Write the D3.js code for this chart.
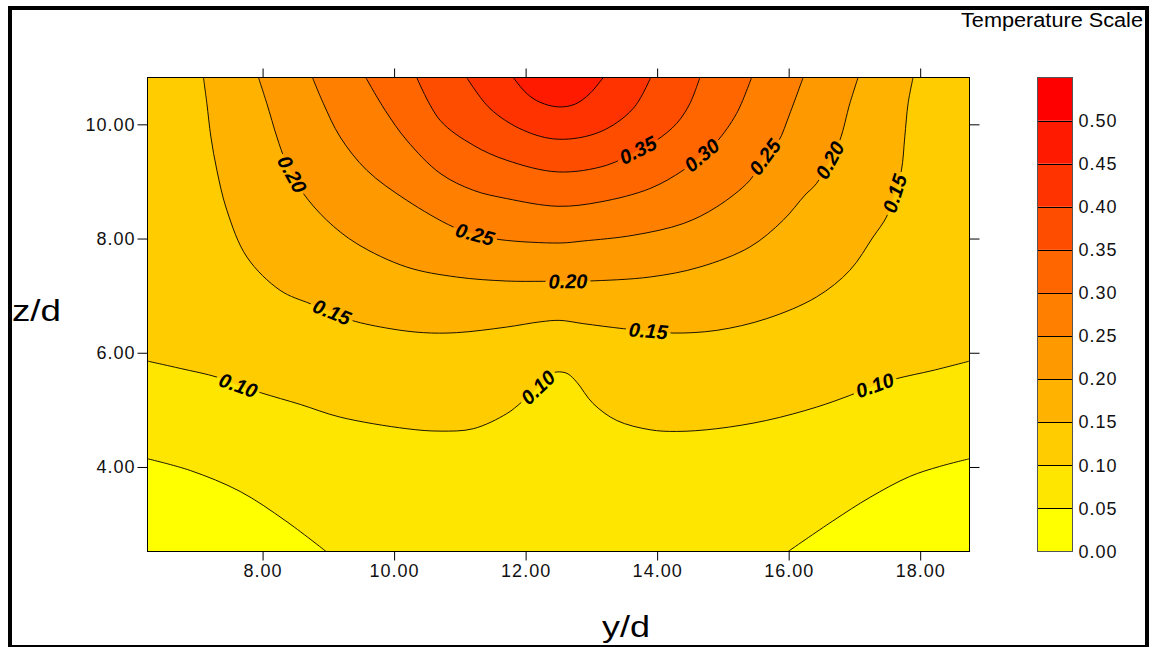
<!DOCTYPE html>
<html><head><meta charset="utf-8">
<script src="https://cdn.jsdelivr.net/npm/d3@7"></script>
<style>
html,body{margin:0;padding:0;background:#fff;}
svg{display:block;font-family:"Liberation Sans",Arial,Helvetica,sans-serif;}
</style></head><body>
<svg id="chart" width="1152" height="647"></svg>
<script>
// ---------- data ----------
const xDomain = [6.25, 18.75];          // y/d
const zDomain = [2.52, 10.82];          // z/d
const xTicks = [8, 10, 12, 14, 16, 18];
const zTicks = [4, 6, 8, 10];
const scaleLevels = [0.00,0.05,0.10,0.15,0.20,0.25,0.30,0.35,0.40,0.45,0.50,0.55];
const scaleTickLabels = [0.00,0.05,0.10,0.15,0.20,0.25,0.30,0.35,0.40,0.45,0.50];
const bandColors = ["#ffff00","#ffe600","#ffcc00","#ffb300","#ff9900","#ff8000",
                    "#ff6600","#ff4d00","#ff3300","#ff1a00","#ff0000"];

// contour lines, [y/d, z/d]
const c05Left  = [[6.25,4.144],[6.899,3.939],[7.659,3.571],[8.343,3.063],[8.966,2.52]];
const c05Right = [[15.992,2.52],[16.671,3.054],[17.234,3.466],[17.842,3.834],[18.297,4.009],[18.75,4.144]];
const c10 = [[6.25,5.854],[6.747,5.726],[7.305,5.574],[7.628,5.428],[7.989,5.294],[8.571,5.096],
  [9.179,4.873],[10.192,4.670],[10.698,4.628],[11.205,4.670],[11.712,4.933],[11.940,5.136],
  [12.188,5.393],[12.401,5.639],[12.522,5.665],[12.644,5.630],[12.781,5.481],[13.024,5.113],
  [13.384,4.815],[13.890,4.652],[14.296,4.622],[14.904,4.670],[15.664,4.815],[16.423,5.048],
  [16.930,5.253],[17.309,5.428],[17.639,5.546],[18.196,5.691],[18.75,5.854]];
const c15 = [[7.101,10.82],[7.153,10.364],[7.214,9.779],[7.305,9.196],[7.457,8.495],[7.761,7.677],
  [8.267,7.093],[8.723,6.860],[9.053,6.713],[9.356,6.567],[9.939,6.422],[10.445,6.352],
  [10.952,6.352],[11.712,6.450],[12.218,6.541],[12.522,6.567],[12.876,6.510],[13.484,6.422],
  [13.864,6.383],[14.244,6.345],[14.904,6.392],[15.664,6.597],[16.423,6.976],[16.930,7.443],
  [17.284,8.027],[17.487,8.377],[17.613,8.787],[17.715,9.196],[17.766,9.779],[17.816,10.364],[17.892,10.82]];
const c20 = [[7.937,10.82],[8.065,10.364],[8.217,9.779],[8.343,9.371],[8.449,9.126],[8.621,8.787],
  [8.977,8.320],[9.432,7.911],[10.192,7.501],[10.952,7.326],[11.712,7.256],[12.268,7.251],
  [12.644,7.251],[12.952,7.256],[13.890,7.326],[14.650,7.501],[15.410,7.852],[15.916,8.320],
  [16.246,8.758],[16.423,8.963],[16.626,9.371],[16.778,9.721],[16.930,10.364],[17.056,10.82]];
const c25 = [[8.758,10.82],[8.925,10.364],[9.179,9.779],[9.584,9.196],[10.192,8.670],[10.901,8.202],
  [11.230,8.074],[11.610,7.981],[12.522,7.922],[12.876,7.957],[13.636,8.057],[14.396,8.262],
  [14.904,8.553],[15.410,9.020],[15.638,9.429],[15.840,9.692],[16.018,10.189],[16.220,10.82]];
const c30 = [[9.569,10.82],[9.863,10.247],[10.192,9.721],[10.698,9.143],[11.205,8.845],[11.712,8.700],
  [12.492,8.565],[13.130,8.640],[13.890,8.875],[14.396,9.196],[14.680,9.459],[14.904,9.692],
  [15.208,10.189],[15.436,10.82]];
const c35 = [[10.344,10.82],[10.698,10.072],[11.205,9.634],[11.712,9.371],[12.496,9.166],[13.232,9.283],
  [13.708,9.546],[13.992,9.721],[14.296,10.014],[14.498,10.364],[14.650,10.82]];
const c40 = [[11.104,10.82],[11.458,10.277],[11.964,9.897],[12.496,9.739],[13.130,9.867],[13.636,10.277],[13.901,10.82]];
const c45 = [[11.812,10.82],[12.016,10.540],[12.218,10.387],[12.496,10.305],[12.750,10.352],[12.978,10.540],[13.180,10.82]];

const contourLines = [
  {level:0.05, pts:c05Left}, {level:0.05, pts:c05Right}, {level:0.10, pts:c10},
  {level:0.15, pts:c15}, {level:0.20, pts:c20}, {level:0.25, pts:c25},
  {level:0.30, pts:c30}, {level:0.35, pts:c35}, {level:0.40, pts:c40}, {level:0.45, pts:c45}
];

// label anchor points on the contour lines
const contourLabels = [
  {level:0.20, y:8.449, z:9.126}, {level:0.25, y:11.230, z:8.074},
  {level:0.15, y:9.053, z:6.713}, {level:0.20, y:12.644, z:7.251},
  {level:0.15, y:13.864, z:6.383}, {level:0.10, y:7.628, z:5.428},
  {level:0.10, y:12.188, z:5.393}, {level:0.10, y:17.309, z:5.428},
  {level:0.15, y:17.613, z:8.787}, {level:0.20, y:16.626, z:9.371},
  {level:0.25, y:15.638, z:9.429}, {level:0.30, y:14.680, z:9.459},
  {level:0.35, y:13.708, z:9.546}
];

// ---------- drawing ----------
const svg = d3.select("#chart");
const L = 147.5, R = 969.5, T = 77.5, B = 551.5;
const x = d3.scaleLinear().domain(xDomain).range([L, R]);
const y = d3.scaleLinear().domain(zDomain).range([B, T]);
const fmt = d3.format(".2f");

const defs = svg.append("defs");
defs.append("clipPath").attr("id","plotclip").append("rect")
  .attr("x",L).attr("y",T).attr("width",R-L).attr("height",B-T);

const line = d3.line().x(d=>x(d[0])).y(d=>y(d[1])).curve(d3.curveCatmullRom.alpha(0.5));
const closeWith = (pts, extra) => line(pts) + extra.map(p=>`L${x(p[0])},${y(p[1])}`).join("") + "Z";

const plot = svg.append("g").attr("clip-path","url(#plotclip)");
plot.append("rect").attr("x",L).attr("y",T).attr("width",R-L).attr("height",B-T).attr("fill",bandColors[1]);

const fills = [
  {pts:c05Left,  extra:[[xDomain[0],zDomain[0]]], color:bandColors[0]},
  {pts:c05Right, extra:[[xDomain[1],zDomain[0]]], color:bandColors[0]},
  {pts:c10, extra:[[xDomain[1],zDomain[1]],[xDomain[0],zDomain[1]]], color:bandColors[2]},
  {pts:c15, extra:[], color:bandColors[3]},
  {pts:c20, extra:[], color:bandColors[4]},
  {pts:c25, extra:[], color:bandColors[5]},
  {pts:c30, extra:[], color:bandColors[6]},
  {pts:c35, extra:[], color:bandColors[7]},
  {pts:c40, extra:[], color:bandColors[8]},
  {pts:c45, extra:[], color:bandColors[9]}
];
plot.selectAll("path.fill").data(fills).join("path").attr("class","fill")
  .attr("d", d=>closeWith(d.pts, d.extra)).attr("fill", d=>d.color).attr("stroke","none");

// mask for label gaps
const mask = defs.append("mask").attr("id","gaps").attr("maskUnits","userSpaceOnUse")
  .attr("x",0).attr("y",0).attr("width",1152).attr("height",647);
mask.append("rect").attr("x",0).attr("y",0).attr("width",1152).attr("height",647).attr("fill","#fff");

const linesG = plot.append("g").attr("mask","url(#gaps)");
linesG.selectAll("path").data(contourLines).join("path")
  .attr("d", d=>line(d.pts)).attr("fill","none").attr("stroke","#000").attr("stroke-width",0.9);

// labels
const labG = plot.append("g");
contourLabels.forEach(lb => {
  const cands = contourLines.filter(c=>Math.abs(c.level-lb.level)<1e-9);
  let best=null, bi=0, bd=Infinity;
  cands.forEach(c=>c.pts.forEach((p,i)=>{
    const dd=(p[0]-lb.y)**2+(p[1]-lb.z)**2; if(dd<bd){bd=dd;best=c;bi=i;}
  }));
  const p0 = best.pts[Math.max(0,bi-1)], p1 = best.pts[Math.min(best.pts.length-1,bi+1)];
  let ang = Math.atan2(y(p1[1])-y(p0[1]), x(p1[0])-x(p0[0]))*180/Math.PI;
  if (ang>90) ang-=180; if (ang<-90) ang+=180;
  const px = x(lb.y), py = y(lb.z);
  const t = labG.append("text").attr("transform",`translate(${px},${py}) rotate(${ang})`)
    .attr("text-anchor","middle").attr("dominant-baseline","central")
    .attr("font-size",20).attr("font-weight","bold").attr("font-style","italic")
    .attr("fill","#000").text(fmt(lb.level));
  const w = t.node().getComputedTextLength() + 6;
  mask.append("rect").attr("x",-w/2).attr("y",-8).attr("width",w).attr("height",16)
    .attr("transform",`translate(${px},${py}) rotate(${ang})`).attr("fill","#000");
});

// plot frame
svg.append("rect").attr("x",L).attr("y",T).attr("width",R-L).attr("height",B-T)
  .attr("fill","none").attr("stroke","#000").attr("stroke-width",1);

// axes
function styleAxis(g){
  g.select(".domain").remove();
  g.attr("font-family",null).attr("font-size",null).style("color","#000");
  g.selectAll("text").attr("font-size",18).attr("letter-spacing",1).attr("fill","#111");
}
svg.append("g").attr("transform",`translate(0,${B})`)
  .call(d3.axisBottom(x).tickValues(xTicks).tickFormat(fmt).tickSize(9).tickPadding(4)).call(styleAxis);
svg.append("g").attr("transform",`translate(0,${T})`)
  .call(d3.axisTop(x).tickValues(xTicks).tickFormat("").tickSize(9)).call(styleAxis);
svg.append("g").attr("transform",`translate(${L},0)`)
  .call(d3.axisLeft(y).tickValues(zTicks).tickFormat(fmt).tickSize(10).tickPadding(2)).call(styleAxis);
svg.append("g").attr("transform",`translate(${R},0)`)
  .call(d3.axisRight(y).tickValues(zTicks).tickFormat("").tickSize(10)).call(styleAxis);

// axis titles
svg.append("text").attr("x",12).attr("y",321).attr("font-size",30)
  .attr("textLength",49).attr("lengthAdjust","spacingAndGlyphs").attr("fill","#000").text("z/d");
svg.append("text").attr("x",602).attr("y",637).attr("font-size",30)
  .attr("textLength",48).attr("lengthAdjust","spacingAndGlyphs").attr("fill","#000").text("y/d");

// colour scale
const cbL = 1037.5, cbW = 35;
const cy = d3.scaleLinear().domain([scaleLevels[0], scaleLevels[scaleLevels.length-1]]).range([B, T]);
const bands = d3.pairs(scaleLevels).map((p,i)=>({lo:p[0],hi:p[1],color:bandColors[i]}));
svg.append("g").selectAll("rect").data(bands).join("rect")
  .attr("x",cbL).attr("width",cbW).attr("y",d=>cy(d.hi)).attr("height",d=>cy(d.lo)-cy(d.hi))
  .attr("fill",d=>d.color);
svg.append("g").selectAll("line").data(scaleLevels.slice(1,-1)).join("line")
  .attr("x1",cbL).attr("x2",cbL+cbW).attr("y1",d=>Math.round(cy(d))+0.5).attr("y2",d=>Math.round(cy(d))+0.5)
  .attr("stroke","#000").attr("stroke-width",1);
svg.append("rect").attr("x",cbL).attr("y",T).attr("width",cbW).attr("height",B-T)
  .attr("fill","none").attr("stroke","#555").attr("stroke-width",1);
svg.append("g").attr("transform",`translate(${cbL+cbW},0)`)
  .call(d3.axisRight(cy).tickValues(scaleTickLabels).tickFormat(fmt).tickSize(0).tickPadding(6))
  .call(styleAxis);

svg.append("text").attr("x",961).attr("y",27).attr("font-size",19.5)
  .attr("textLength",182).attr("lengthAdjust","spacingAndGlyphs").attr("fill","#000").text("Temperature Scale");

// outer border
svg.append("rect").attr("x",10).attr("y",8).attr("width",1137).attr("height",639)
  .attr("fill","none").attr("stroke","#000").attr("stroke-width",4);
</script>
</body></html>
